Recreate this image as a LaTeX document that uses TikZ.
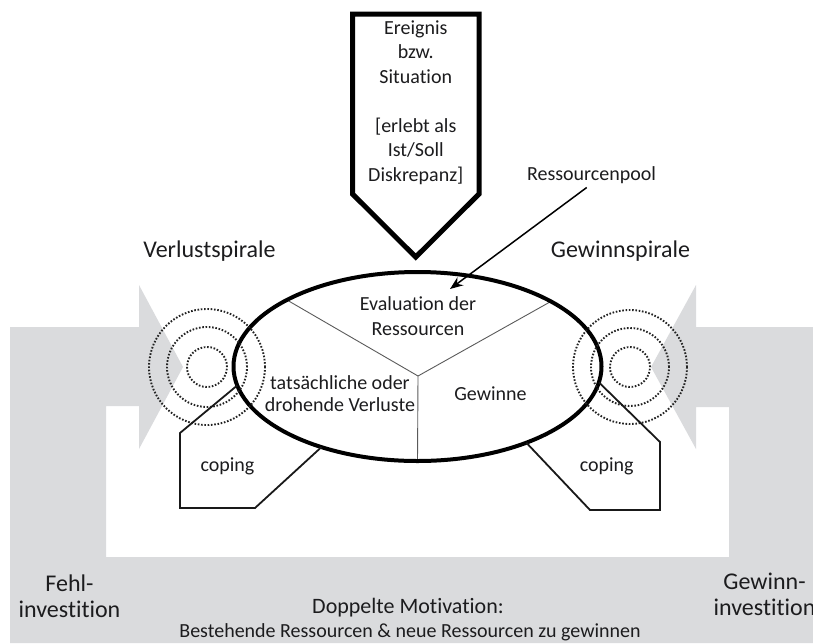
\documentclass[tikz,border=0pt]{standalone}
\usepackage{fontspec}
\setmainfont{Carlito}[Ligatures={NoCommon}]
\usetikzlibrary{shapes.geometric,arrows.meta}
\definecolor{bandgrey}{RGB}{218,219,221}
\definecolor{inkdark}{RGB}{28,28,30}
\definecolor{dotgrey}{RGB}{35,35,35}
\definecolor{spokegrey}{RGB}{90,90,90}
\begin{document}
\begin{tikzpicture}[x=1pt,y=-1pt,
  lbl/.style={text=inkdark, inner sep=0pt, outer sep=0pt, align=center},
  txtmid/.style={lbl, font=\fontsize{20}{24.5}\selectfont},
  txtbig/.style={lbl, font=\fontsize{24}{25.6}\selectfont},
  dotring/.style={circle, draw=dotgrey, line width=1.9pt,
    dash pattern=on 1.6pt off 1.7pt, inner sep=0pt, outer sep=0pt},
  spoke/.style={draw=spokegrey, line width=0.9pt},
  copingline/.style={draw=black!90, line width=1.8pt},
]
\useasboundingbox (0,0) rectangle (813,643);
\clip (0,0) rectangle (813,643);

% grey U-shaped double arrow (investment loop)
\fill[bandgrey] (10,643) -- (10,327) -- (139,327) -- (139,285) -- (183,367)
  -- (139,449) -- (139,406) -- (106,406) -- (106,557) -- (729,557)
  -- (729,407) -- (696,407) -- (696,449) -- (651,367) -- (696,285)
  -- (696,327) -- (813,327) -- (813,643) -- cycle;

% event arrow at the top (multi-line nodes: base = last line)
\draw[line width=5pt, fill=white] (352.5,14) -- (479,14) -- (479,194)
  -- (415.75,257) -- (352.5,194) -- cycle;
\node[txtmid, anchor=base] (event) at (415.75,181)
  {Ereignis\\bzw.\\Situation\\[24.5pt]{[}erlebt als\\Ist/Soll\\Diskrepanz]};

% central evaluation ellipse with its three sectors
\coordinate (hub) at (418,376);
\node[ellipse, minimum width=368pt, minimum height=189pt, inner sep=0pt,
  outer sep=0pt] (eval) at (417.5,366.5) {};
\draw[spoke] (hub) -- (eval.153.3);
\draw[spoke] (hub) -- (eval.26.7);
\draw[spoke] (hub) -- (eval.south);
\draw[line width=4pt] (eval.center) ellipse[x radius=184pt, y radius=94.5pt];

% spirals
\node[dotring, minimum size=40pt]  (lossA) at (207,367) {};
\node[dotring, minimum size=80pt]  (lossB) at (207,367) {};
\node[dotring, minimum size=116pt] (lossC) at (207,367) {};
\node[dotring, minimum size=40pt]  (gainA) at (630,367) {};
\node[dotring, minimum size=78pt]  (gainB) at (630,367) {};
\node[dotring, minimum size=114pt] (gainC) at (630,367) {};

% coping boxes
\draw[copingline] (eval.186) -- (180,433) -- (180,508) -- (255,508) -- (eval.220);
\draw[copingline] (eval.-5) -- (660,442) -- (660,510) -- (590,510) -- (eval.-35.6);
\node[txtmid, anchor=base] (copL) at (227.5,471.7) {coping};
\node[txtmid, anchor=base] (copR) at (606.7,471.7) {coping};

% sector labels
\node[lbl, font=\fontsize{20}{25}\selectfont, anchor=base] (evaltxt) at (418,335)
  {Evaluation der\\Ressourcen};
\node[lbl, font=\fontsize{20}{22.5}\selectfont, anchor=base] (losstxt) at (340,411.7)
  {tatsächliche oder\\drohende Verluste};
\node[txtmid, anchor=base] (gaintxt) at (490.5,400) {Gewinne};

% resource pool pointer
\node[txtmid, anchor=base] (pool) at (591.5,180.7) {Ressourcenpool};
\coordinate (pooltip) at (450,289);
\draw[line width=1.5pt, -{Stealth[length=13pt,width=10pt]}, shorten <=6pt]
  (pool.south) -- (pooltip);

% headings
\node[txtbig, anchor=base] (lossspiral) at (209.5,257) {Verlustspirale};
\node[txtbig, anchor=base] (gainspiral) at (620.5,257) {Gewinnspirale};

% bottom captions
\node[txtbig, anchor=base] (misinv) at (69.5,617) {Fehl-\\investition};
\node[txtbig, anchor=base] (gaininv) at (764.5,615.5) {Gewinn-\\investition};
\node[lbl, font=\fontsize{22}{26}\selectfont, anchor=base] (motiv) at (408,613)
  {Doppelte Motivation:};
\node[txtmid, anchor=base] (motivsub) at (410,637)
  {Bestehende Ressourcen \& neue Ressourcen zu gewinnen};
\end{tikzpicture}
\end{document}
